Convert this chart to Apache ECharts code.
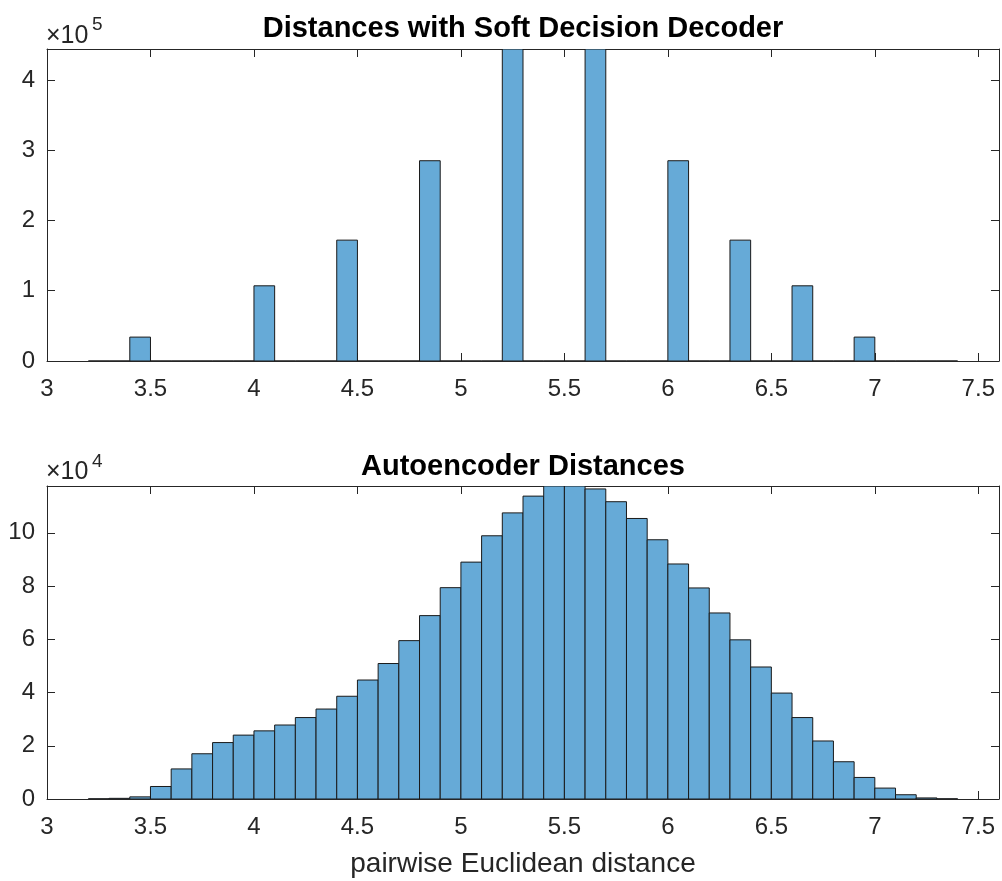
<!DOCTYPE html>
<html>
<head>
<meta charset="utf-8">
<script src="https://cdn.jsdelivr.net/npm/echarts@6/dist/echarts.min.js"></script>
<style>
html,body{margin:0;padding:0;background:#fff;}
#c{width:1002px;height:881px;}
</style>
</head>
<body>
<div id="c"></div>
<script>
// ---- data ----
const binLeft = [3.2,3.3,3.4,3.5,3.6,3.7,3.8,3.9,4.0,4.1,4.2,4.3,4.4,4.5,4.6,4.7,4.8,4.9,5.0,5.1,5.2,
                 5.3,5.4,5.5,5.6,5.7,5.8,5.9,6.0,6.1,6.2,6.3,6.4,6.5,6.6,6.7,6.8,6.9,7.0,7.1,7.2,7.3];
const binWidth = 0.1;
const softCounts = [0,0,34000,0,0,0,0,0,107000,0,0,0,172000,0,0,0,285000,0,0,0,444000,
                    0,0,0,444000,0,0,0,285000,0,0,172000,0,0,107000,0,0,34000,0,0,0,0];
const autoCounts = [80,250,800,4700,11300,17000,21200,24000,25600,27800,30600,33800,38600,44700,50900,59500,68900,79400,89000,98900,107500,
                    113800,117600,117600,116500,111700,105400,97400,88300,79300,69900,59800,49600,39800,30600,21800,14000,8100,4100,1600,400,80];
const xTicks = [3,3.5,4,4.5,5,5.5,6,6.5,7,7.5];
const titles = ['Distances with Soft Decision Decoder','Autoencoder Distances'];
const xLabel = 'pairwise Euclidean distance';

const FONT = '"Liberation Sans", Arial, Helvetica, sans-serif';
const AX = '#262626';
const FILL = '#66AAD7';
const EDGE = '#1a1a1a';

function mk(counts){ return binLeft.map((b,i)=>[b, +(b+binWidth).toFixed(2), counts[i]]); }

function renderItem(params, api){
  const x0 = api.value(0), x1 = api.value(1), y = api.value(2);
  const p0 = api.coord([x0, 0]);
  const p1 = api.coord([x1, y]);
  return {type:'rect', shape:{x:p0[0], y:p1[1], width:p1[0]-p0[0], height:p0[1]-p1[1]},
          style:{fill:FILL, stroke:EDGE, lineWidth:1}};
}

function xAx(grid, pos, labels){
  return {type:'value', gridIndex:grid, position:pos, min:3, max:7.6, interval:0.5,
    axisLine:{show:true, onZero:false, lineStyle:{color:AX, width:1}},
    axisTick:{show:true, inside:true, length:8, lineStyle:{color:AX}},
    splitLine:{show:false},
    axisLabel:{show:labels, color:AX, fontSize:24, fontFamily:FONT, margin:16, showMaxLabel:false,
      formatter:v=> xTicks.some(t=>Math.abs(t-v)<1e-9) ? String(v) : ''}};
}
function yAx(grid, pos, labels, max, step, div){
  return {type:'value', gridIndex:grid, position:pos, min:0, max:max, interval:step,
    axisLine:{show:true, onZero:false, lineStyle:{color:AX, width:1}},
    axisTick:{show:true, inside:true, length:8, lineStyle:{color:AX}},
    splitLine:{show:false},
    axisLabel:{show:labels, color:AX, fontSize:24, fontFamily:FONT, margin:12, showMaxLabel:false,
      formatter:v=> (Math.abs(v/step - Math.round(v/step))<1e-9) ? String(Math.round(v/div)) : ''}};
}

const chart = echarts.init(document.getElementById('c'), null, {renderer:'canvas'});
chart.setOption({
  animation:false,
  backgroundColor:'#fff',
  grid:[
    {left:47, right:3, top:49, height:312},
    {left:47, right:3, top:486, height:313}
  ],
  xAxis:[ xAx(0,'bottom',true), xAx(0,'top',false), xAx(1,'bottom',true), xAx(1,'top',false) ],
  yAxis:[ yAx(0,'left',true,444000,100000,100000), yAx(0,'right',false,444000,100000,100000),
          yAx(1,'left',true,117600,20000,10000), yAx(1,'right',false,117600,20000,10000) ],
  series:[
    {type:'custom', xAxisIndex:0, yAxisIndex:0, renderItem:renderItem, data:mk(softCounts), encode:{x:[0,1], y:2}, clip:true},
    {type:'custom', xAxisIndex:2, yAxisIndex:2, renderItem:renderItem, data:mk(autoCounts), encode:{x:[0,1], y:2}, clip:true}
  ],
  graphic:[
    {type:'text', x:523, y:29, style:{text:titles[0], font:'bold 29px '+FONT, fill:'#000', textAlign:'center', textVerticalAlign:'middle'}},
    {type:'text', x:523, y:467, style:{text:titles[1], font:'bold 29px '+FONT, fill:'#000', textAlign:'center', textVerticalAlign:'middle'}},
    {type:'text', x:523, y:864, style:{text:xLabel, font:'28px '+FONT, fill:AX, textAlign:'center', textVerticalAlign:'middle'}},
    {type:'text', x:46, y:36, style:{text:'\u00d710', font:'25px '+FONT, fill:AX, textAlign:'left', textVerticalAlign:'middle'}},
    {type:'text', x:92, y:25, style:{text:'5', font:'19px '+FONT, fill:AX, textAlign:'left', textVerticalAlign:'middle'}},
    {type:'text', x:46, y:472, style:{text:'\u00d710', font:'25px '+FONT, fill:AX, textAlign:'left', textVerticalAlign:'middle'}},
    {type:'text', x:92, y:462, style:{text:'4', font:'19px '+FONT, fill:AX, textAlign:'left', textVerticalAlign:'middle'}}
  ]
});
</script>
</body>
</html>
